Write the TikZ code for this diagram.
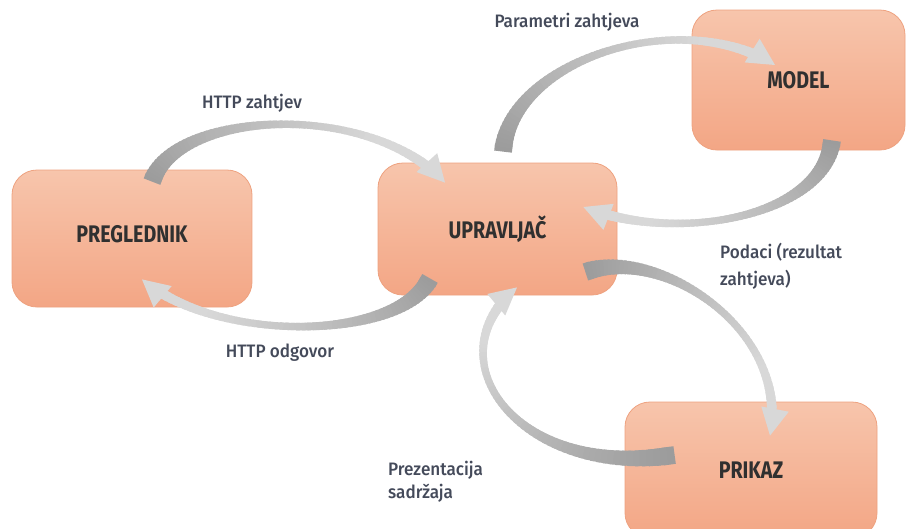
\documentclass[tikz,border=0pt]{standalone}
\usepackage{fontspec}
\setmainfont{Fira Sans}
\newfontfamily\boxfont[FakeStretch=0.82]{Fira Sans}
\newfontfamily\lblfont[FakeStretch=0.95]{Fira Sans Medium}
\usetikzlibrary{calc}
\definecolor{arrdark}{RGB}{155,155,155}
\definecolor{arrlight}{RGB}{216,216,216}
\definecolor{boxtop}{RGB}{247,197,172}
\definecolor{boxbot}{RGB}{243,166,133}
\definecolor{boxline}{RGB}{238,162,128}
\definecolor{lbl}{RGB}{68,74,90}
\definecolor{boxtxt}{RGB}{48,48,48}
\def\headlen{27}
\def\headhw{14}
\def\gwA{18}
\def\gwB{11}
\def\gwdip{7}
\newcommand\gradarrow[4]{%
  \path (#1); \pgfgetlastxy{\gAx}{\gAy}%
  \path (#2); \pgfgetlastxy{\gBx}{\gBy}%
  \path (#3); \pgfgetlastxy{\gCx}{\gCy}%
  \path (#4); \pgfgetlastxy{\gDx}{\gDy}%
  \pgfmathsetmacro\gAx{\gAx}\pgfmathsetmacro\gAy{\gAy}%
  \pgfmathsetmacro\gBx{\gBx}\pgfmathsetmacro\gBy{\gBy}%
  \pgfmathsetmacro\gCx{\gCx}\pgfmathsetmacro\gCy{\gCy}%
  \pgfmathsetmacro\gDx{\gDx}\pgfmathsetmacro\gDy{\gDy}%
  \pgfmathsetmacro\gL{veclen(\gDx-\gCx,\gDy-\gCy)}%
  \pgfmathsetmacro\gux{(\gDx-\gCx)/\gL}%
  \pgfmathsetmacro\guy{(\gDy-\gCy)/\gL}%
  \pgfmathsetmacro\gTend{1-0.8*\headlen/(3*\gL)}%
  \foreach \i in {0,...,59}{%
    \pgfmathsetmacro\gta{\i/60*\gTend}%
    \pgfmathsetmacro\gtb{min((\i+1.7)/60,1)*\gTend}%
    \pgfmathsetmacro\gtm{(\i+0.5)/60*\gTend}%
    \pgfmathsetmacro\gxa{(1-\gta)^3*\gAx+3*(1-\gta)^2*\gta*\gBx+3*(1-\gta)*\gta^2*\gCx+\gta^3*\gDx}%
    \pgfmathsetmacro\gya{(1-\gta)^3*\gAy+3*(1-\gta)^2*\gta*\gBy+3*(1-\gta)*\gta^2*\gCy+\gta^3*\gDy}%
    \pgfmathsetmacro\gxb{(1-\gtb)^3*\gAx+3*(1-\gtb)^2*\gtb*\gBx+3*(1-\gtb)*\gtb^2*\gCx+\gtb^3*\gDx}%
    \pgfmathsetmacro\gyb{(1-\gtb)^3*\gAy+3*(1-\gtb)^2*\gtb*\gBy+3*(1-\gtb)*\gtb^2*\gCy+\gtb^3*\gDy}%
    \pgfmathsetmacro\gw{\gwA*(1-\gtm)+\gwB*\gtm-\gwdip*sin(180*\gtm)}%
    \pgfmathtruncatemacro\gcol{min(100,130*\gtm)}%
    \draw[line width=\gw pt, draw=arrlight!\gcol!arrdark] (\gxa pt,\gya pt) -- (\gxb pt,\gyb pt);
  }%
  \pgfmathsetmacro\gbx{\gDx-\headlen*\gux}%
  \pgfmathsetmacro\gby{\gDy-\headlen*\guy}%
  \pgfmathsetmacro\gpx{\gbx-\headhw*\guy}%
  \pgfmathsetmacro\gpy{\gby+\headhw*\gux}%
  \pgfmathsetmacro\gqx{\gbx+\headhw*\guy}%
  \pgfmathsetmacro\gqy{\gby-\headhw*\gux}%
  \fill[arrlight] (\gDx pt,\gDy pt) -- (\gpx pt,\gpy pt) -- (\gqx pt,\gqy pt) -- cycle;
}
\tikzset{
  box/.style={rectangle, rounded corners=25pt, top color=boxtop, bottom color=boxbot,
    draw=boxline, line width=0.8pt, text=boxtxt,
    font=\boxfont\bfseries\fontsize{24}{28}\selectfont},
  lab/.style={text=lbl, font=\lblfont\fontsize{18}{22}\selectfont, inner sep=0pt}
}
\begin{document}
\begin{tikzpicture}[x=1pt,y=-1pt]
\useasboundingbox (0,0) rectangle (909,528);
\clip (0,0) rectangle (909,528);
\fill[white] (0,0) rectangle (909,528);
% boxes
\node[box, minimum width=240pt, minimum height=137pt, text depth=9pt] (prg) at (132,238.5) {PREGLEDNIK};
\node[box, minimum width=239pt, minimum height=132pt] (upr) at (497.5,229) {UPRAVLJAČ};
\node[box, minimum width=213pt, minimum height=140pt] (mdl) at (798.5,80) {MODEL};
\node[box, minimum width=252pt, minimum height=136pt] (prk) at (751,470) {PRIKAZ};
% arrow end points
\coordinate (a1s) at ($(prg.north)+(20,12)$);
\coordinate (a1e) at ($(upr.north)+(-52.5,20)$);
\coordinate (a2s) at ($(upr.south)+(-67.5,-17)$);
\coordinate (a2e) at ($(prg.south)+(10,-28)$);
\coordinate (a3s) at ($(upr.north)+(5.5,-11)$);
\coordinate (a3e) at ($(mdl.center)+(-23.5,-15)$);
\coordinate (a4s) at ($(mdl.south)+(33.5,-10)$);
\coordinate (a4e) at ($(upr.east)+(-34,-22)$);
\coordinate (a5s) at ($(upr.east)+(-32,43)$);
\coordinate (a5e) at ($(prk.north)+(19,34)$);
\coordinate (a6s) at ($(prk.west)+(50,-15)$);
\coordinate (a6e) at ($(upr.south)+(19.5,-8)$);
% control points
\coordinate (a1c1) at (175,110); \coordinate (a1c2) at (370,100);
\coordinate (a2c1) at (400,340); \coordinate (a2c2) at (220,345);
\coordinate (a3c1) at (510,60);  \coordinate (a3c2) at (680,5);
\coordinate (a4c1) at (825,215); \coordinate (a4c2) at (680,245);
\coordinate (a5c1) at (660,245); \coordinate (a5c2) at (790,330);
\coordinate (a6c1) at (520,480); \coordinate (a6c2) at (430,360);
% arrows
\gradarrow{a1s}{a1c1}{a1c2}{a1e}
\gradarrow{a2s}{a2c1}{a2c2}{a2e}
\gradarrow{a3s}{a3c1}{a3c2}{a3e}
\gradarrow{a4s}{a4c1}{a4c2}{a4e}
\gradarrow{a5s}{a5c1}{a5c2}{a5e}
\gradarrow{a6s}{a6c1}{a6c2}{a6e}
% labels
\node[lab] (l1) at (252,103) {HTTP zahtjev};
\node[lab] (l2) at (280,353) {HTTP odgovor};
\node[lab] (l3) at (567,22) {Parametri zahtjeva};
\node[lab, anchor=west] (l4a) at (720,252) {Podaci (rezultat};
\node[lab, anchor=west] (l4b) at (720,280) {zahtjeva)};
\node[lab, anchor=west] (l5a) at (388,470) {Prezentacija};
\node[lab, anchor=west] (l5b) at (388,493) {sadržaja};
\end{tikzpicture}
\end{document}
